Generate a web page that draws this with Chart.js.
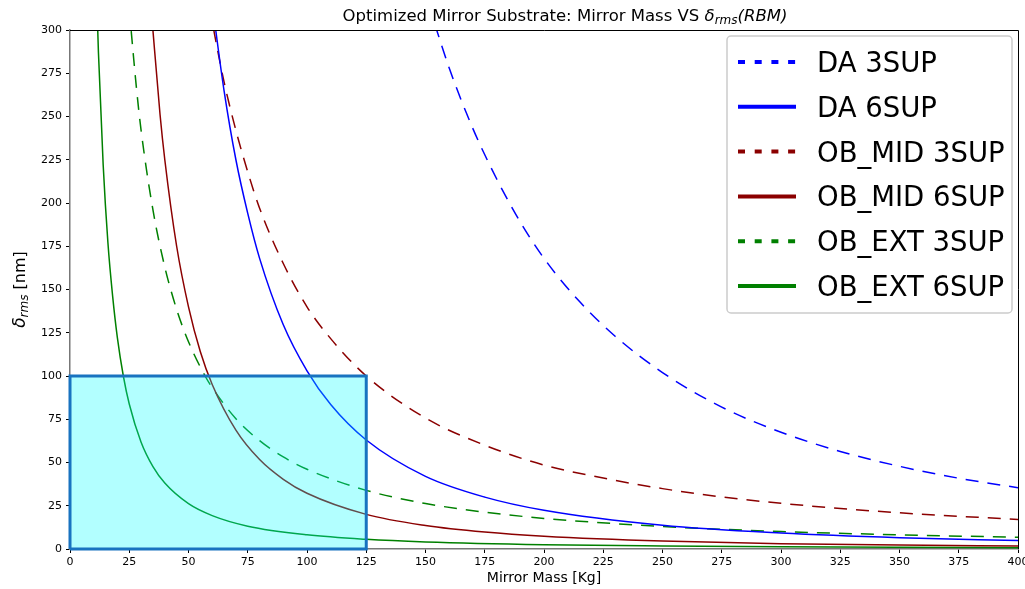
<!DOCTYPE html>
<html>
<head>
<meta charset="utf-8">
<script src="https://cdn.jsdelivr.net/npm/chart.js@4.4.0/dist/chart.umd.min.js"></script>
<style>
body{margin:0;background:#fff;}
canvas{display:block;}
</style>
</head>
<body>
<canvas id="chart1" width="1025" height="589"></canvas>
<script>
// values (x = mirror mass in Kg, y = delta rms in nm)
let da3X = [154, 160, 170, 180, 190, 200, 215, 230, 250, 275, 300, 325, 350, 375, 400];
let da3Y = [303, 278, 243, 214, 189, 168, 143, 123, 102, 82, 67.5, 56.4, 47.8, 40.9, 35.4];

let da6X = [60.5, 65, 70, 75, 80, 90, 100, 110, 125, 150, 175, 200, 250, 300, 350, 400];
let da6Y = [310, 265, 225, 194, 168, 129.6, 103, 83.5, 63, 42, 30, 22.4, 13.7, 9.2, 6.5, 4.9];

let mid3X = [59, 61, 65, 70, 75, 80, 90, 100, 110, 125, 150, 175, 200, 225, 250, 275, 300, 350, 400];
let mid3Y = [313, 297.5, 270, 242, 218, 197, 165, 140, 121.6, 100, 75.7, 60, 48.5, 41, 34.9, 30.1, 26.4, 20.9, 17.1];

let mid6X = [34.5, 38, 40, 45, 50, 55, 60, 70, 80, 90, 100, 125, 150, 175, 200, 250, 300, 350, 400];
let mid6Y = [308, 251, 225, 175, 140, 114, 95.1, 68.7, 51.7, 40.3, 32.2, 20, 13.6, 9.8, 7.4, 4.6, 3.1, 2.3, 1.7];

let ext3X = [25, 28, 30, 35, 40, 45, 50, 57, 60, 70, 80, 90, 100, 125, 150, 175, 200, 250, 300, 350, 400];
let ext3Y = [312, 267, 242, 196, 163, 138.5, 119.8, 100, 93.3, 75.3, 62.6, 53.2, 46.1, 33.9, 26.3, 21.3, 17.7, 13, 10.1, 8.2, 6.8];

let ext6X = [11.5, 12, 14, 16, 18, 20, 22.5, 25, 30, 35, 40, 50, 60, 75, 100, 125, 150, 200, 250, 300, 350, 400];
let ext6Y = [309, 287, 222, 177, 146, 122, 100, 83.8, 61.7, 47.6, 38.1, 26.2, 19.3, 13.2, 8.2, 5.6, 4.1, 2.5, 1.75, 1.29, 1.0, 0.79];

// highlighted region (mass <= 125 Kg, delta <= 100 nm)
let boxX = [0, 0, 125, 125, 0];
let boxY = [0, 100, 100, 0, 0];

let xMin = 0, xMax = 400, xStep = 25;
let yMin = 0, yMax = 300, yStep = 25;

function pts(xs, ys) {
    return xs.map((x, i) => ({x: x, y: ys[i]}));
}

function curve(label, xs, ys, color, dashed) {
    return {
        label: label, data: pts(xs, ys),
        borderColor: color, borderWidth: 1.5,
        borderDash: dashed ? [13, 9] : [],
        pointRadius: 0, cubicInterpolationMode: "monotone",
        fill: false, order: 1
    };
}

// draw text made of pieces (normal / italic / subscript), centred on cx
function drawRich(ctx, parts, cx, y) {
    let total = 0;
    parts.forEach(p => { ctx.font = p.font; total += ctx.measureText(p.t).width; });
    let x = cx - total / 2;
    parts.forEach(p => {
        ctx.font = p.font;
        ctx.fillText(p.t, x, y + (p.dy || 0));
        x += ctx.measureText(p.t).width;
    });
}

const extras = {
    id: "extras",
    afterDatasetsDraw(chart) {
        let ctx = chart.ctx, a = chart.chartArea;
        ctx.save();
        ctx.strokeStyle = "#000";
        ctx.lineWidth = 1;
        ctx.beginPath();
        ctx.moveTo(a.left, a.top + 0.5);
        ctx.lineTo(a.right + 0.5, a.top + 0.5);
        ctx.lineTo(a.right + 0.5, a.bottom);
        ctx.stroke();
        ctx.restore();
    },
    afterDraw(chart) {
        let ctx = chart.ctx, a = chart.chartArea;
        ctx.save();
        ctx.fillStyle = "#000";
        ctx.textBaseline = "alphabetic";
        // title
        drawRich(ctx, [
            {t: "Optimized Mirror Substrate: Mirror Mass VS ", font: "16.5px 'DejaVu Sans'"},
            {t: "δ", font: "italic 16.5px 'DejaVu Sans'"},
            {t: "rms", font: "italic 12px 'DejaVu Sans'", dy: 3},
            {t: "(RBM)", font: "italic 16.5px 'DejaVu Sans'"}
        ], 565, 21);
        // y axis label
        ctx.save();
        ctx.translate(25, (a.top + a.bottom) / 2);
        ctx.rotate(-Math.PI / 2);
        drawRich(ctx, [
            {t: "δ", font: "italic 17px 'DejaVu Sans'"},
            {t: "rms", font: "italic 12px 'DejaVu Sans'", dy: 3},
            {t: " [nm]", font: "16px 'DejaVu Sans'"}
        ], 0, 0);
        ctx.restore();

        // legend box
        let sets = chart.data.datasets.filter(d => !d.noLegend);
        let x0 = 727, y0 = 36, w = 285, h = 277;
        ctx.beginPath();
        if (ctx.roundRect) ctx.roundRect(x0, y0, w, h, 4); else ctx.rect(x0, y0, w, h);
        ctx.fillStyle = "rgba(255,255,255,0.8)";
        ctx.fill();
        ctx.strokeStyle = "#cccccc";
        ctx.lineWidth = 1.5;
        ctx.stroke();
        ctx.font = "27.5px 'DejaVu Sans'";
        sets.forEach((d, i) => {
            let y = 62 + i * 44.8;
            ctx.beginPath();
            ctx.setLineDash(d.borderDash.length ? [7, 9.7] : []);
            ctx.strokeStyle = d.borderColor;
            ctx.lineWidth = 4;
            ctx.moveTo(738, y);
            ctx.lineTo(796, y);
            ctx.stroke();
            ctx.setLineDash([]);
            ctx.fillStyle = "#000";
            ctx.fillText(d.label, 817, y + 10);
        });
        ctx.restore();
    }
};

Chart.defaults.font.family = "'DejaVu Sans'";
Chart.defaults.color = "#000";

new Chart(document.getElementById("chart1"), {
    type: "line",
    data: {
        datasets: [
            curve("DA 3SUP", da3X, da3Y, "#0000ff", true),
            curve("DA 6SUP", da6X, da6Y, "#0000ff", false),
            curve("OB_MID 3SUP", mid3X, mid3Y, "#8b0000", true),
            curve("OB_MID 6SUP", mid6X, mid6Y, "#8b0000", false),
            curve("OB_EXT 3SUP", ext3X, ext3Y, "#008000", true),
            curve("OB_EXT 6SUP", ext6X, ext6Y, "#008000", false),
            {
                label: "region", noLegend: true, data: pts(boxX, boxY),
                borderColor: "#1873c0", borderWidth: 3, borderDash: [],
                backgroundColor: "rgba(0,255,255,0.3)", fill: "shape",
                pointRadius: 0, tension: 0, order: -1, clip: false
            }
        ]
    },
    options: {
        responsive: false,
        animation: false,
        devicePixelRatio: 1,
        layout: {padding: {left: 0, right: 7, top: 30, bottom: 0}},
        plugins: {legend: {display: false}, tooltip: {enabled: false}, title: {display: false}},
        scales: {
            x: {
                type: "linear", min: xMin, max: xMax,
                ticks: {stepSize: xStep, font: {size: 11}, color: "#000", padding: 3, maxRotation: 0},
                grid: {drawOnChartArea: false, drawTicks: true, tickLength: 4, color: "#000"},
                border: {display: true, color: "#777", width: 1.5},
                title: {display: true, text: "Mirror Mass [Kg]", font: {size: 14}, color: "#000", padding: {top: 0, bottom: 2}},
                afterFit: s => { s.height = 40; s.paddingRight = 0; s.paddingLeft = 0; }
            },
            y: {
                type: "linear", min: yMin, max: yMax,
                ticks: {stepSize: yStep, font: {size: 11}, color: "#000", padding: 4},
                grid: {drawOnChartArea: false, drawTicks: true, tickLength: 4, color: "#000"},
                border: {display: true, color: "#777", width: 1.5},
                afterFit: s => { s.width = 70; }
            }
        }
    },
    plugins: [extras]
});
</script>
</body>
</html>
